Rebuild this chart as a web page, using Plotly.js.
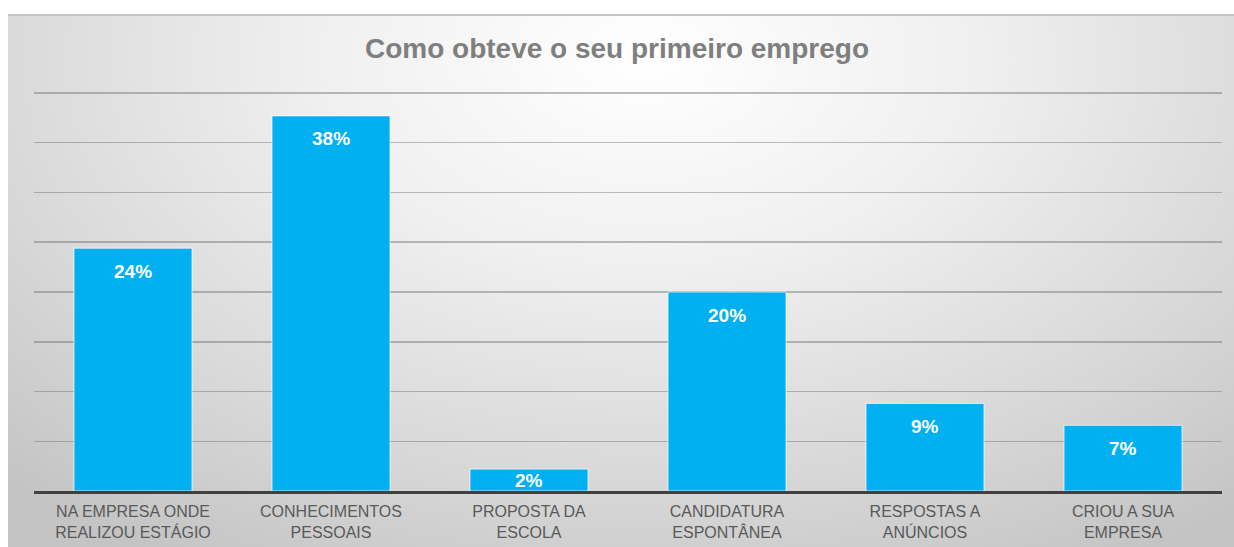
<!DOCTYPE html>
<html>
<head>
<meta charset="utf-8">
<script src="https://cdn.plot.ly/plotly-3.0.1.min.js"></script>
<style>
  html, body { margin: 0; padding: 0; background: #ffffff; }
  #bg {
    position: absolute; left: 8px; top: 14px; width: 1226px; height: 533px;
    border-top: 2px solid #c4c4c4;
    box-sizing: border-box;
    background: radial-gradient(ellipse 75% 110% at 52% 8%, #ffffff 0%, #f0f0f0 35%, #d6d6d6 75%, #c4c4c4 100%);
  }
  #chart { position: absolute; left: 0; top: 0; width: 1234px; height: 547px; }
</style>
</head>
<body>
<div id="bg"></div>
<div id="chart"></div>
<script>
const categories = [
  "NA EMPRESA ONDE<br>REALIZOU ESTÁGIO",
  "CONHECIMENTOS<br>PESSOAIS",
  "PROPOSTA DA<br>ESCOLA",
  "CANDIDATURA<br>ESPONTÂNEA",
  "RESPOSTAS A<br>ANÚNCIOS",
  "CRIOU A SUA<br>EMPRESA"
];
const values = [24.4, 37.7, 2.2, 20.0, 8.8, 6.6];
const valueLabels = ["24%", "38%", "2%", "20%", "9%", "7%"];
const chartTitle = "Como obteve o seu primeiro emprego";

const trace = {
  type: "bar",
  x: categories,
  y: values,
  marker: { color: "#00B0F0", line: { color: "rgba(255,255,255,0.7)", width: 1 } },
  hoverinfo: "skip"
};

const annotations = values.map((v, i) => {
  const small = v < 4;
  return {
    x: categories[i],
    y: small ? v / 2 : v,
    xref: "x", yref: "y",
    text: "<b>" + valueLabels[i] + "</b>",
    showarrow: false,
    yanchor: "middle",
    yshift: small ? 0 : -23,
    font: { family: "Liberation Sans, Arial, sans-serif", size: 19, color: "#ffffff" }
  };
});

const layout = {
  width: 1234, height: 547,
  paper_bgcolor: "rgba(0,0,0,0)",
  plot_bgcolor: "rgba(0,0,0,0)",
  margin: { l: 34, r: 12, t: 91, b: 56 },
  bargap: 0.404,
  showlegend: false,
  title: {
    text: "<b>" + chartTitle + "</b>",
    x: 0.5, xanchor: "center",
    y: 0.912, yanchor: "middle", yref: "container",
    font: { family: "Liberation Sans, Arial, sans-serif", size: 28, color: "#7f7f7f" }
  },
  xaxis: {
    type: "category",
    showline: true, linecolor: "#404040", linewidth: 3,
    showgrid: false, ticks: "",
    ticklabelstandoff: 4,
    tickfont: { family: "Liberation Sans, Arial, sans-serif", size: 16, color: "#595959" }
  },
  yaxis: {
    range: [0, 40.2], tickvals: [5, 10, 15, 20, 25, 30, 35, 40],
    showticklabels: false,
    showgrid: true, gridcolor: "rgba(100,100,100,0.42)", gridwidth: 1.5,
    zeroline: false, showline: false, ticks: ""
  },
  annotations: annotations
};

Plotly.newPlot("chart", [trace], layout, { displayModeBar: false, staticPlot: true });
</script>
</body>
</html>
